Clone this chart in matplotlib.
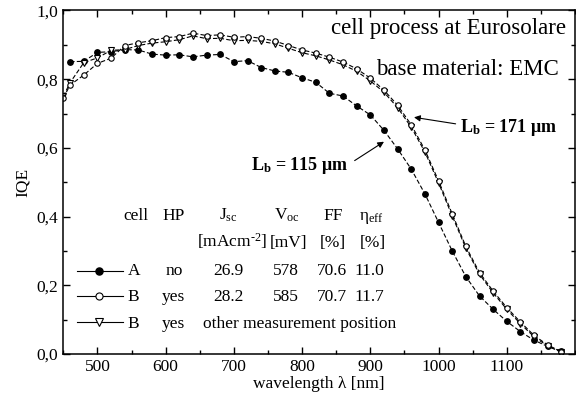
import matplotlib
matplotlib.use('Agg')
import matplotlib.pyplot as plt
from matplotlib.ticker import MultipleLocator, FuncFormatter

plt.rcParams['font.family'] = ['Liberation Serif', 'DejaVu Serif']
plt.rcParams['mathtext.fontset'] = 'custom'
plt.rcParams['mathtext.rm'] = 'Liberation Serif'
plt.rcParams['mathtext.it'] = 'Liberation Serif:italic'
plt.rcParams['mathtext.bf'] = 'Liberation Serif:bold'

# IQE data
wl_a = [460, 480, 500, 520, 540, 560, 580, 600, 620, 640, 660, 680, 700, 720,
        740, 760, 780, 800, 820, 840, 860, 880, 900, 920, 940, 960, 980, 1000,
        1020, 1040, 1060, 1080, 1100, 1120, 1140, 1160, 1180]
iqe_a = [0.851, 0.852, 0.878, 0.880, 0.886, 0.885, 0.873, 0.870, 0.871, 0.865,
         0.870, 0.872, 0.851, 0.854, 0.834, 0.824, 0.820, 0.804, 0.791, 0.759,
         0.751, 0.722, 0.696, 0.651, 0.597, 0.538, 0.466, 0.383, 0.300, 0.225,
         0.169, 0.130, 0.095, 0.065, 0.040, 0.022, 0.008]

wl_b = [450] + wl_a
iqe_b = [0.745, 0.783, 0.812, 0.846, 0.861, 0.898, 0.906, 0.912, 0.921, 0.924,
         0.934, 0.927, 0.929, 0.922, 0.924, 0.919, 0.911, 0.898, 0.885, 0.876,
         0.864, 0.850, 0.830, 0.803, 0.768, 0.724, 0.667, 0.594, 0.504, 0.408,
         0.313, 0.237, 0.183, 0.135, 0.093, 0.054, 0.026, 0.007]
iqe_b2 = [0.750, 0.790, 0.848, 0.862, 0.884, 0.886, 0.898, 0.905, 0.909, 0.915,
          0.926, 0.918, 0.919, 0.912, 0.913, 0.910, 0.903, 0.890, 0.877, 0.868,
          0.856, 0.842, 0.823, 0.795, 0.762, 0.717, 0.660, 0.588, 0.498, 0.402,
          0.308, 0.232, 0.178, 0.130, 0.088, 0.050, 0.023, 0.005]

xticks = [500, 600, 700, 800, 900, 1000, 1100]

# table in the lower left
cells = ['A', 'B', 'B']
hp = ['no', 'yes', 'yes']
jsc = ['26.9', '28.2']
voc = ['578', '585']
ff = ['70.6', '70.7']
eta = ['11.0', '11.7']

fig = plt.figure(figsize=(5.76, 4.03), dpi=100)
ax = fig.add_axes([0.1099, 0.1216, 0.8884, 0.8524])

dash = (0, (4, 2))
styles = [dict(marker='o', mfc='black', mec='black', ms=3.9),
          dict(marker='o', mfc='white', mec='black', ms=3.9, mew=0.8),
          dict(marker='v', mfc='white', mec='black', ms=4.8, mew=0.8)]

ax.plot(wl_a, iqe_a, color='black', lw=0.8, ls=dash, **styles[0])
ax.plot(wl_b, iqe_b2, color='black', lw=0.8, ls=dash, **styles[2])
ax.plot(wl_b, iqe_b, color='black', lw=0.8, ls=dash, **styles[1])

ax.set_xlim(450, 1200)
ax.set_ylim(0, 1.0)
ax.set_xticks(xticks)
ax.xaxis.set_minor_locator(MultipleLocator(50))
ax.yaxis.set_major_locator(MultipleLocator(0.2))
ax.yaxis.set_minor_locator(MultipleLocator(0.1))
ax.yaxis.set_major_formatter(FuncFormatter(lambda v, p: ('%.1f' % v).replace('.', ',')))
ax.tick_params(which='both', direction='in', top=True, right=True, labelsize=12.5, width=1)
ax.tick_params(which='major', length=5)
ax.tick_params(which='minor', length=3)
for s in ax.spines.values():
    s.set_linewidth(1.1)
ax.set_xlabel(u'wavelength λ [nm]', fontsize=12.5, labelpad=1)
ax.set_ylabel('IQE', fontsize=12.5, labelpad=4)

ax.text(0.982, 0.932, 'cell process at Eurosolare', transform=ax.transAxes,
        ha='right', va='baseline', fontsize=16.5)
ax.text(0.969, 0.812, 'base material: EMC', transform=ax.transAxes,
        ha='right', va='baseline', fontsize=16.5)

ax.text(797, 0.550, u'L$_{\\mathbf{b}}$ = 115 μm', ha='center', va='center',
        fontsize=13, fontweight='bold')
ax.annotate('', xy=(920, 0.618), xytext=(877, 0.563),
            arrowprops=dict(arrowstyle='-|>', color='black', lw=0.8,
                            mutation_scale=9, shrinkA=0, shrinkB=0))
ax.text(1103, 0.658, u'L$_{\\mathbf{b}}$ = 171 μm', ha='center', va='center',
        fontsize=13, fontweight='bold')
ax.annotate('', xy=(964, 0.689), xytext=(1025, 0.670),
            arrowprops=dict(arrowstyle='-|>', color='black', lw=0.8,
                            mutation_scale=9, shrinkA=0, shrinkB=0))

fs = 12.5
tr = ax.transAxes
hdr_y, unit_y = 0.390, 0.311
row_y = [0.230, 0.153, 0.077]
key_y = [0.2425, 0.169, 0.094]
ax.text(0.141, hdr_y, 'cell', transform=tr, ha='center', va='baseline', fontsize=fs)
ax.text(0.216, hdr_y, 'HP', transform=tr, ha='center', va='baseline', fontsize=fs)
ax.text(0.322, hdr_y, 'J$_{\\rm sc}$', transform=tr, ha='center', va='baseline', fontsize=fs)
ax.text(0.437, hdr_y, 'V$_{\\rm oc}$', transform=tr, ha='center', va='baseline', fontsize=fs)
ax.text(0.527, hdr_y, 'FF', transform=tr, ha='center', va='baseline', fontsize=fs)
ax.text(0.603, hdr_y, u'η$_{\\rm eff}$', transform=tr, ha='center', va='baseline', fontsize=fs)
ax.text(0.262, unit_y, u'[mAcm$^{\\mathrm{\u2010}2}$]', transform=tr, ha='left',
        va='baseline', fontsize=fs)
ax.text(0.441, unit_y, '[mV]', transform=tr, ha='center', va='baseline', fontsize=fs)
ax.text(0.527, unit_y, '[%]', transform=tr, ha='center', va='baseline', fontsize=fs)
ax.text(0.605, unit_y, '[%]', transform=tr, ha='center', va='baseline', fontsize=fs)

for i in range(3):
    ax.plot([0.026, 0.117], [key_y[i], key_y[i]], transform=tr, color='black',
            lw=0.8, clip_on=False)
    st = dict(styles[i])
    st['ms'] = st['ms'] + 1.2
    ax.plot([0.070], [key_y[i]], transform=tr, ls='none', clip_on=False, **st)
    ax.text(0.126, row_y[i], cells[i], transform=tr, ha='left', va='baseline', fontsize=fs)
    ax.text(0.216, row_y[i], hp[i], transform=tr, ha='center', va='baseline', fontsize=fs)
for i in range(2):
    ax.text(0.322, row_y[i], jsc[i], transform=tr, ha='center', va='baseline', fontsize=fs)
    ax.text(0.435, row_y[i], voc[i], transform=tr, ha='center', va='baseline', fontsize=fs)
    ax.text(0.525, row_y[i], ff[i], transform=tr, ha='center', va='baseline', fontsize=fs)
    ax.text(0.599, row_y[i], eta[i], transform=tr, ha='center', va='baseline', fontsize=fs)
ax.text(0.273, row_y[2], 'other measurement position', transform=tr, ha='left',
        va='baseline', fontsize=fs)

fig.savefig('out.png', dpi=100)
